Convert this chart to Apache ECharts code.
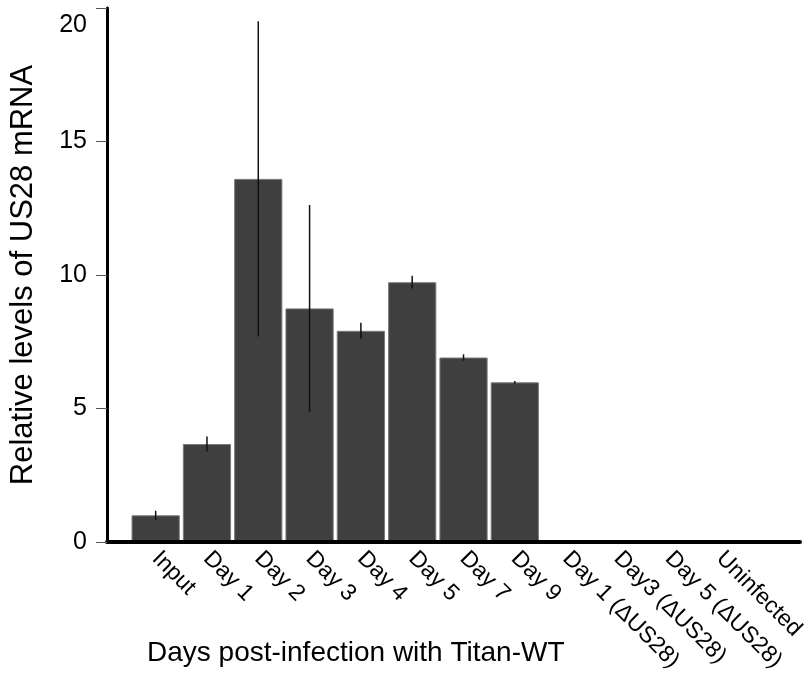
<!DOCTYPE html>
<html>
<head>
<meta charset="utf-8">
<script src="https://cdn.jsdelivr.net/npm/echarts@6/dist/echarts.min.js"></script>
<style>
  html, body { margin: 0; padding: 0; background: #fff; }
  #chart { width: 808px; height: 679px; }
</style>
</head>
<body>
<div id="chart"></div>
<script>
// data
const categories = ['Input', 'Day 1', 'Day 2', 'Day 3', 'Day 4', 'Day 5', 'Day 7', 'Day 9',
  'Day 1 (ΔUS28)', 'Day3 (ΔUS28)', 'Day 5 (ΔUS28)', 'Uninfected'];
const levels = [1.0, 3.67, 13.6, 8.75, 7.91, 9.73, 6.91, 5.98, 0, 0, 0, 0];
const errors = [0.17, 0.28, 5.9, 3.87, 0.3, 0.24, 0.12, 0.05, 0, 0, 0, 0];
const yMin = 0, yMax = 20, yStep = 5;

const font = "'Liberation Sans', Arial, sans-serif";

// error bar ranges [index, low, high]
const errorData = [];
levels.forEach((v, i) => {
  if (errors[i] > 0) errorData.push([i, v - errors[i], v + errors[i]]);
});

const myChart = echarts.init(document.getElementById('chart'));
myChart.setOption({
  animation: false,
  textStyle: { fontFamily: font, color: '#000' },
  title: {
    text: 'Days post-infection with Titan-WT',
    left: 142,
    top: 634,
    textStyle: { fontFamily: font, fontSize: 28, fontWeight: 'normal', color: '#000' }
  },
  grid: [
    // frame: axis lines
    { left: 107, right: 8, top: 8, bottom: 137 },
    // bars
    { left: 130, right: 61, top: 8, bottom: 137 }
  ],
  xAxis: [
    {
      type: 'value', gridIndex: 0, min: 0, max: 1, z: 5,
      axisLine: { lineStyle: { color: '#000', width: 4 } },
      axisTick: { show: false },
      axisLabel: { show: false },
      splitLine: { show: false }
    },
    {
      type: 'category', gridIndex: 1, data: categories,
      axisLine: { show: false },
      axisTick: { show: false },
      axisLabel: {
        interval: 0, rotate: -45, margin: 13,
        fontFamily: font, fontSize: 23, color: '#000'
      }
    }
  ],
  yAxis: [
    {
      type: 'value', gridIndex: 0, min: yMin, max: yMax, interval: yStep, z: 5,
      name: 'Relative levels of US28 mRNA',
      nameLocation: 'middle',
      nameGap: 68,
      nameTextStyle: { fontFamily: font, fontSize: 31, color: '#000' },
      axisLine: { show: true, lineStyle: { color: '#000', width: 3 } },
      axisTick: { show: true, length: 11, lineStyle: { color: '#555', width: 1 } },
      axisLabel: {
        margin: 20, fontFamily: font, fontSize: 25, color: '#000',
        formatter: v => v === yMax ? '{top|' + v + '}' : String(v),
        rich: { top: { fontFamily: font, fontSize: 25, color: '#000', padding: [34, 0, 0, 0] } }
      },
      splitLine: { show: false }
    },
    { type: 'value', gridIndex: 1, min: yMin, max: yMax, show: false }
  ],
  series: [
    {
      type: 'bar',
      xAxisIndex: 1, yAxisIndex: 1,
      barCategoryGap: '6%',
      itemStyle: { color: '#3f3f3f', borderColor: '#7a7a7a', borderWidth: 1 },
      data: levels
    },
    {
      type: 'custom',
      xAxisIndex: 1, yAxisIndex: 1,
      z: 4,
      renderItem: function (params, api) {
        const lo = api.coord([api.value(0), api.value(1)]);
        const hi = api.coord([api.value(0), api.value(2)]);
        return {
          type: 'line',
          shape: { x1: lo[0], y1: lo[1], x2: hi[0], y2: hi[1] },
          style: { stroke: '#111', lineWidth: 1.5 }
        };
      },
      data: errorData
    }
  ]
});
</script>
</body>
</html>
